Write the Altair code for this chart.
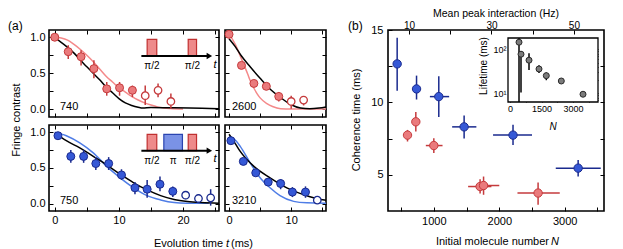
import altair as alt
import pandas as pd

FONT = "Liberation Sans"

RED_FILL = "#ea7a7c"
RED_EDGE = "#c53a3c"
RED_FIT = "#f4898a"
BLUE_FILL = "#3558d6"
BLUE_EDGE = "#1a2a8e"
BLUE_FIT = "#4f7de6"

# ---------------- panel (a) data ----------------
# N = 740, Ramsey (pi/2 - pi/2)
tl_t = [0.0, 2.1, 4.1, 6.1, 8.1, 10.1, 12.1, 14.1, 16.1, 18.1]
tl_c = [1.00, 0.80, 0.73, 0.565, 0.285, 0.30, 0.265, 0.19, 0.265, 0.11]
tl_lo = [0.97, 0.70, 0.61, 0.43, 0.19, 0.19, 0.17, 0.06, 0.17, 0.01]
tl_hi = [1.03, 0.89, 0.82, 0.68, 0.38, 0.38, 0.33, 0.33, 0.36, 0.22]
tl_open = [False] * 7 + [True] * 3
tl_blk_t = [0, 1, 2, 3, 4, 5, 6, 7, 8, 9, 10, 11, 12, 13, 13.7, 15, 18, 21, 25.6]
tl_blk_c = [0.99, 0.93, 0.86, 0.78, 0.68, 0.59, 0.50, 0.41, 0.31, 0.23, 0.15, 0.09,
            0.055, 0.03, 0.018, 0.025, 0.022, 0.02, 0.01]
tl_fit_t = [0, 1, 2, 3, 4, 5, 6, 7, 8, 9, 10, 11, 12, 13, 14, 15, 16, 17, 18, 20]
tl_fit_c = [1.0, 0.99, 0.96, 0.90, 0.83, 0.75, 0.66, 0.56, 0.46, 0.38, 0.30, 0.24,
            0.18, 0.13, 0.09, 0.06, 0.035, 0.02, 0.012, 0.005]

# N = 2600, Ramsey
tr_t = [0, 2, 4, 6, 8, 10, 12]
tr_c = [1.04, 0.61, 0.36, 0.32, 0.18, 0.11, 0.13]
tr_lo = [1.02, 0.58, 0.33, 0.29, 0.11, 0.01, 0.055]
tr_hi = [1.06, 0.64, 0.39, 0.35, 0.24, 0.19, 0.185]
tr_open = [False] * 5 + [True] * 2
tr_blk_t = [0, 1, 2, 3.4, 5, 6.5, 8.2, 10, 11.5, 13, 14.5, 15.6]
tr_blk_c = [0.98, 0.87, 0.74, 0.59, 0.43, 0.29, 0.17, 0.065, 0.02, 0.01, 0.02, 0.035]
tr_fit_t = [0, 1, 2, 3, 3.4, 4.5, 5, 6.1, 7, 8.3, 10, 12, 14, 15.6]
tr_fit_c = [1.05, 0.90, 0.70, 0.49, 0.40, 0.22, 0.16, 0.08, 0.04, 0.01, 0.005, 0.005,
            0.005, 0.005]

# N = 750, spin echo (pi/2 - pi - pi/2)
bl_t = [0.5, 2.5, 4.5, 6.4, 8.4, 10.4, 12.5, 14.4, 16.4, 18.4, 20.4, 22.4, 24.3]
bl_c = [0.95, 0.66, 0.66, 0.56, 0.56, 0.40, 0.22, 0.20, 0.27, 0.17, 0.116, 0.07, 0.08]
bl_lo = [0.92, 0.57, 0.57, 0.47, 0.47, 0.33, 0.13, 0.08, 0.17, 0.09, 0.06, 0.01, -0.03]
bl_hi = [0.98, 0.75, 0.75, 0.65, 0.65, 0.48, 0.30, 0.33, 0.38, 0.24, 0.17, 0.13, 0.20]
bl_open = [False] * 10 + [True] * 3
bl_blk_t = [0, 1.8, 3.9, 6, 8.1, 10.2, 12.3, 14.4, 16.5, 18.6, 20.7, 22.8, 25.6]
bl_blk_c = [0.99, 0.88, 0.78, 0.66, 0.54, 0.41, 0.29, 0.19, 0.11, 0.056, 0.028, 0.014, 0.005]
bl_fit_t = [0, 1.8, 3.9, 6, 8.1, 10.2, 12.3, 14.4, 16.5, 18.6, 20.7, 22.8, 24.0]
bl_fit_c = [1.0, 0.95, 0.85, 0.71, 0.52, 0.36, 0.22, 0.11, 0.05, 0.014, 0.005, 0.003, 0.003]

# N = 3210, spin echo
br_t = [0.3, 2.3, 4.3, 6.3, 8.3, 10.2, 12.3, 14.2]
br_c = [0.88, 0.59, 0.43, 0.30, 0.28, 0.16, 0.16, 0.047]
br_lo = [0.85, 0.56, 0.40, 0.27, 0.20, 0.09, 0.08, 0.02]
br_hi = [0.91, 0.62, 0.46, 0.33, 0.34, 0.23, 0.24, 0.07]
br_open = [False] * 7 + [True]
br_blk_t = [0, 1, 1.8, 4, 6.6, 9.3, 12, 14.7, 15.6]
br_blk_c = [0.97, 0.84, 0.73, 0.52, 0.36, 0.22, 0.125, 0.056, 0.045]
br_fit_t = [0, 1, 1.8, 3.4, 5, 6.6, 8.2, 10.4, 12.5, 15.6]
br_fit_c = [0.94, 0.89, 0.80, 0.57, 0.36, 0.22, 0.11, 0.03, 0.01, 0.005]

# pulse-sequence sketches (in panel data units)
ramsey_x0 = [14.4, 20.8]
ramsey_x1 = [15.9, 22.1]
ramsey_lab_t = [15.15, 21.45]
ramsey_lab = ["π/2", "π/2"]
echo_red_x0 = [14.4, 20.8]
echo_red_x1 = [15.9, 22.1]
echo_blue_x0 = [17.0]
echo_blue_x1 = [19.9]
echo_lab_t = [15.15, 18.45, 21.45]
echo_lab = ["π/2", "π", "π/2"]

# ---------------- panel (b) data ----------------
blue_N = [440, 736, 1076, 1463, 2210, 3205]
blue_N_lo = [440, 736, 940, 1280, 1905, 2863]
blue_N_hi = [440, 736, 1234, 1650, 2500, 3550]
blue_tau = [12.66, 10.93, 10.40, 8.31, 7.74, 5.46]
blue_tau_lo = [10.8, 10.2, 9.0, 7.5, 7.05, 4.88]
blue_tau_hi = [14.47, 11.85, 11.8, 9.1, 8.45, 6.03]

red_N = [598, 725, 1000, 1707, 1760, 2593]
red_N_lo = [598, 725, 878, 1524, 1650, 2278]
red_N_hi = [598, 725, 1133, 1880, 2000, 2924]
red_tau = [7.74, 8.66, 7.02, 4.19, 4.26, 3.74]
red_tau_lo = [7.30, 7.99, 6.50, 3.70, 3.62, 2.93]
red_tau_hi = [8.10, 9.33, 7.53, 4.70, 4.88, 4.47]

inset_N = [429, 524, 905, 1381, 1729, 2443, 3476]
inset_life = [146, 78, 57, 36, 25.4, 19.2, 9.6]
inset_lo = [6.4, 10.5, 34, 29, 20, 17, 9.0]
inset_hi = [182, 92, 82, 44, 30, 21, 10.2]

# ---------------- layout (whole figure is one plot area) ----------------
W, H = 607, 240
P_TL = (41, 211, 22, 109)   # x0, x1, y0, y1 in pixels
P_TR = (217, 318, 22, 109)
P_BL = (41, 211, 117, 203)
P_BR = (217, 318, 117, 203)
P_B = (380, 596, 22, 203)
P_I = (500, 590, 30, 94)


def offs(rect, orient, ts):
    x0, x1, y0, y1 = rect
    return {"bottom": -(H - y1) - ts, "left": -x0 - ts,
            "top": -y0 - ts, "right": -(W - x1) - ts}[orient]


def axis_in(rect, orient, values, ts=4, labels=True, label_expr=None, **kw):
    args = dict(orient=orient, values=values, tickSize=ts, offset=offs(rect, orient, ts),
                domain=False, grid=False, labels=labels, labelFlush=False,
                labelOverlap=False, title=None)
    if label_expr:
        args["labelExpr"] = label_expr
    args.update(kw)
    return alt.Axis(**args)


def text_at(s, x, y, **kw):
    return alt.Chart(pd.DataFrame({"s": [s]})).mark_text(**kw).encode(
        x=alt.value(x), y=alt.value(y), text="s:N")


def scales(rect, xdom, ydom, ylog=False):
    x0, x1, y0, y1 = rect
    xs = alt.Scale(domain=xdom, range=[x0, x1], nice=False, zero=False)
    if ylog:
        ys = alt.Scale(type="log", domain=ydom, range=[y1, y0], nice=False)
    else:
        ys = alt.Scale(domain=ydom, range=[y1, y0], nice=False, zero=False)
    return xs, ys


YT = [0, 0.25, 0.5, 0.75, 1.0]
YEXPR = "(datum.value == 0 || datum.value == 0.5 || datum.value == 1) ? format(datum.value, '.1f') : ''"


def panel(rect, t, c, lo, hi, op, blk_t, blk_c, fit_t, fit_c, fill, edge, fitcol,
          xdom, ydom, xticks, show_x, show_y, extras):
    xs, ys = scales(rect, xdom, ydom)
    xa = axis_in(rect, "bottom", xticks, labels=show_x,
                 label_expr="datum.value % 10 == 0 ? datum.label : ''", labelPadding=3)
    ya = axis_in(rect, "left", YT, labels=show_y, label_expr=YEXPR, labelPadding=4)

    def X(f):
        return alt.X(f, type="quantitative", scale=xs, axis=xa)

    def Y(f):
        return alt.Y(f, type="quantitative", scale=ys, axis=ya)

    df = pd.DataFrame(dict(t=t, c=c, lo=lo, hi=hi, op=op))
    fr = alt.Chart(pd.DataFrame(dict(x0=[xdom[0]], x1=[xdom[1]], y0=[ydom[0]], y1=[ydom[1]]))).mark_rect(
        fill="white", fillOpacity=0, stroke="black", strokeWidth=1.6).encode(
        x=X("x0"), x2="x1", y=Y("y0"), y2="y1")
    cfit = alt.Chart(pd.DataFrame(dict(t=fit_t, c=fit_c))).mark_line(
        color=fitcol, strokeWidth=1.5, interpolate="monotone").encode(x=X("t"), y=Y("c"))
    bfit = alt.Chart(pd.DataFrame(dict(t=blk_t, c=blk_c))).mark_line(
        color="black", strokeWidth=1.5, interpolate="monotone").encode(x=X("t"), y=Y("c"))
    err = alt.Chart(df).mark_rule(color=edge, strokeWidth=1.5).encode(
        x=X("t"), y=Y("lo"), y2="hi")
    pf = alt.Chart(df).transform_filter("!datum.op").mark_circle(
        size=64, opacity=1, fill=fill, stroke=edge, strokeWidth=1).encode(x=X("t"), y=Y("c"))
    po = alt.Chart(df).transform_filter("datum.op").mark_circle(
        size=56, opacity=1, fill="white", stroke=edge, strokeWidth=1.3).encode(x=X("t"), y=Y("c"))
    main = alt.layer(fr, cfit, bfit, err, pf, po, *extras(X, Y))
    dummy = alt.Chart(pd.DataFrame(dict(x=xdom, y=ydom))).mark_point(opacity=0).encode(
        x=alt.X("x:Q", scale=xs, axis=axis_in(rect, "top", xticks, labels=False)),
        y=alt.Y("y:Q", scale=ys, axis=axis_in(rect, "right", YT, labels=False)))
    return [main, dummy]


def pulses(red0, red1, blue0, blue1, lab_t, labs):
    def f(X, Y):
        out = []
        rd = pd.DataFrame(dict(x0=red0, x1=red1, y0=[0.74] * len(red0), y1=[0.97] * len(red0)))
        out.append(alt.Chart(rd).mark_rect(fill="#ee8a8a", stroke="#c03030", strokeWidth=1.2).encode(
            x=X("x0"), x2="x1", y=Y("y0"), y2="y1"))
        if blue0:
            bd = pd.DataFrame(dict(x0=blue0, x1=blue1, y0=[0.74], y1=[0.97]))
            out.append(alt.Chart(bd).mark_rect(fill="#7a92e6", stroke="#2a44b0", strokeWidth=1.2).encode(
                x=X("x0"), x2="x1", y=Y("y0"), y2="y1"))
        ad = pd.DataFrame(dict(x0=[13.5], x1=[24.1], y=[0.74]))
        out.append(alt.Chart(ad).mark_rule(color="black", strokeWidth=2).encode(
            x=X("x0"), x2="x1", y=Y("y")))
        out.append(alt.Chart(ad).mark_point(shape="triangle-right", filled=True, color="black",
                                            size=40, opacity=1).encode(x=X("x1"), y=Y("y")))
        ld = pd.DataFrame(dict(t=lab_t, c=[0.6] * len(lab_t), s=labs))
        out.append(alt.Chart(ld).mark_text(fontSize=10, baseline="middle").encode(
            x=X("t"), y=Y("c"), text="s:N"))
        td = pd.DataFrame(dict(t=[25.0], c=[0.62], s=["t"]))
        out.append(alt.Chart(td).mark_text(fontSize=11, fontStyle="italic", baseline="middle").encode(
            x=X("t"), y=Y("c"), text="s:N"))
        return out
    return f


XL = [-0.9, 25.6]
XR = [-0.65, 15.6]
YD = [-0.105, 1.1]
XTL = [0, 5, 10, 15, 20, 25]
XTR = [0, 5, 10, 15]

layers = []
layers += panel(P_TL, tl_t, tl_c, tl_lo, tl_hi, tl_open, tl_blk_t, tl_blk_c, tl_fit_t, tl_fit_c,
                RED_FILL, RED_EDGE, RED_FIT, XL, YD, XTL, False, True,
                pulses(ramsey_x0, ramsey_x1, [], [], ramsey_lab_t, ramsey_lab))
layers += panel(P_TR, tr_t, tr_c, tr_lo, tr_hi, tr_open, tr_blk_t, tr_blk_c, tr_fit_t, tr_fit_c,
                RED_FILL, RED_EDGE, RED_FIT, XR, YD, XTR, False, False, lambda X, Y: [])
layers += panel(P_BL, bl_t, bl_c, bl_lo, bl_hi, bl_open, bl_blk_t, bl_blk_c, bl_fit_t, bl_fit_c,
                BLUE_FILL, BLUE_EDGE, BLUE_FIT, XL, YD, XTL, True, True,
                pulses(echo_red_x0, echo_red_x1, echo_blue_x0, echo_blue_x1, echo_lab_t, echo_lab))
layers += panel(P_BR, br_t, br_c, br_lo, br_hi, br_open, br_blk_t, br_blk_c, br_fit_t, br_fit_c,
                BLUE_FILL, BLUE_EDGE, BLUE_FIT, XR, YD, XTR, True, False, lambda X, Y: [])

# ---------------- panel (b) ----------------
BX = [300, 3600]
BY = [2.5, 15]
xs_b, ys_b = scales(P_B, BX, BY)
xa_b = axis_in(P_B, "bottom", [500, 1000, 1500, 2000, 2500, 3000, 3500],
               label_expr="datum.value % 1000 == 0 ? datum.label : ''", format="d", labelPadding=4)
ya_b = axis_in(P_B, "left", [5, 7.5, 10, 12.5, 15],
               label_expr="datum.value % 5 == 0 ? datum.label : ''", labelPadding=5)


def XB(f):
    return alt.X(f, type="quantitative", scale=xs_b, axis=xa_b)


def YB(f):
    return alt.Y(f, type="quantitative", scale=ys_b, axis=ya_b)


def series_b(N, Nlo, Nhi, tau, tlo, thi, fill, edge):
    d = pd.DataFrame(dict(N=N, Nlo=Nlo, Nhi=Nhi, tau=tau, tlo=tlo, thi=thi))
    ex = alt.Chart(d).mark_rule(color=edge, strokeWidth=1.5).encode(x=XB("Nlo"), x2="Nhi", y=YB("tau"))
    ey = alt.Chart(d).mark_rule(color=edge, strokeWidth=1.5).encode(x=XB("N"), y=YB("tlo"), y2="thi")
    p = alt.Chart(d).mark_circle(size=70, opacity=1, fill=fill, stroke=edge, strokeWidth=1).encode(
        x=XB("N"), y=YB("tau"))
    return [ex, ey, p]


b_frame = alt.Chart(pd.DataFrame(dict(x0=[BX[0]], x1=[BX[1]], y0=[BY[0]], y1=[BY[1]]))).mark_rect(
    fill="white", fillOpacity=0, stroke="black", strokeWidth=1.6).encode(
    x=XB("x0"), x2="x1", y=YB("y0"), y2="y1")
layers.append(alt.layer(
    b_frame,
    *series_b(red_N, red_N_lo, red_N_hi, red_tau, red_tau_lo, red_tau_hi, RED_FILL, RED_EDGE),
    *series_b(blue_N, blue_N_lo, blue_N_hi, blue_tau, blue_tau_lo, blue_tau_hi, BLUE_FILL, BLUE_EDGE),
))

hz_dom = [4.9, 57.3]
xs_hz, _ = scales(P_B, hz_dom, BY)
layers.append(alt.Chart(pd.DataFrame(dict(x=hz_dom, y=BY))).mark_point(opacity=0).encode(
    x=alt.X("x:Q", scale=xs_hz,
            axis=axis_in(P_B, "top", [10, 20, 30, 40, 50],
                         label_expr="datum.value % 20 == 10 ? datum.label : ''",
                         labelPadding=0, labelFontSize=10)),
    y=alt.Y("y:Q", scale=ys_b, axis=axis_in(P_B, "right", [5, 7.5, 10, 12.5], labels=False))))

# inset
IX = [-95, 4190]
IY = [6.4, 182]
xs_i, ys_i = scales(P_I, IX, IY, ylog=True)
XTI = [0, 750, 1500, 2250, 3000, 3750]
YTI = [7, 8, 9, 10, 20, 30, 40, 50, 60, 70, 80, 90, 100]
xa_i = axis_in(P_I, "bottom", XTI, ts=3,
               label_expr="datum.value % 1500 == 0 ? datum.label : ''", format="d",
               labelFontSize=9, labelPadding=2)
ya_i = axis_in(P_I, "left", YTI, ts=3,
               label_expr="datum.value == 10 ? '10¹' : (datum.value == 100 ? '10²' : '')",
               labelFontSize=9, labelPadding=2)


def XI(f):
    return alt.X(f, type="quantitative", scale=xs_i, axis=xa_i)


def YI(f):
    return alt.Y(f, type="quantitative", scale=ys_i, axis=ya_i)


ind = pd.DataFrame(dict(N=inset_N, L=inset_life, lo=inset_lo, hi=inset_hi))
i_frame = alt.Chart(pd.DataFrame(dict(x0=[IX[0]], x1=[IX[1]], y0=[IY[0]], y1=[IY[1]]))).mark_rect(
    fill="white", stroke="black", strokeWidth=1.3).encode(x=XI("x0"), x2="x1", y=YI("y0"), y2="y1")
layers.append(alt.layer(
    i_frame,
    alt.Chart(ind).mark_rule(color="black", strokeWidth=1.5).encode(x=XI("N"), y=YI("lo"), y2="hi"),
    alt.Chart(ind).mark_circle(size=36, opacity=1, fill="#7b7b7b", stroke="#2a2a2a", strokeWidth=1).encode(
        x=XI("N"), y=YI("L")),
))
layers.append(alt.Chart(pd.DataFrame(dict(x=IX, y=IY))).mark_point(opacity=0).encode(
    x=alt.X("x:Q", scale=xs_i, axis=axis_in(P_I, "top", XTI, ts=3, labels=False)),
    y=alt.Y("y:Q", scale=ys_i, axis=axis_in(P_I, "right", YTI, ts=3, labels=False))))

# ---------------- texts ----------------
layers += [
    text_at("(a)", 0, 18, align="left", fontSize=12),
    text_at("(b)", 340, 18, align="left", fontSize=12),
    text_at("740", 52, 99, align="left", fontSize=11),
    text_at("2600", 224, 99, align="left", fontSize=11),
    text_at("750", 52, 193, align="left", fontSize=11),
    text_at("3210", 224, 193, align="left", fontSize=11),
    text_at("Fringe contrast", 9, 112, angle=270, align="center", baseline="middle", fontSize=11),
    text_at("Evolution time", 215, 236, align="right", fontSize=11),
    text_at("t", 219.5, 236, align="center", fontSize=11, fontStyle="italic"),
    text_at("(ms)", 223, 236, align="left", fontSize=11),
    text_at("Mean peak interaction (Hz)", 488, 6, align="center", fontSize=10.5),
    text_at("Coherence time (ms)", 349, 112, angle=270, align="center", baseline="middle", fontSize=11),
    text_at("Initial molecule number", 541, 234, align="right", fontSize=11),
    text_at("N", 543, 234, align="left", fontSize=11, fontStyle="italic"),
    text_at("Lifetime (ms)", 476, 58, angle=270, align="center", baseline="middle", fontSize=10),
    text_at("N", 545, 119, align="center", fontSize=10, fontStyle="italic"),
]

chart = alt.layer(*layers).resolve_scale(x="independent", y="independent").properties(
    width=W, height=H, padding=0).configure(font=FONT).configure_axis(
    labelFont=FONT, titleFont=FONT, labelFontSize=11, titleFontSize=11,
    labelColor="black", titleColor="black", tickColor="black", tickWidth=1,
    titleFontWeight="normal").configure_view(strokeWidth=0).configure_text(
    font=FONT, color="black")

chart.save("out.html", embed_options={"renderer": "svg", "actions": False})
